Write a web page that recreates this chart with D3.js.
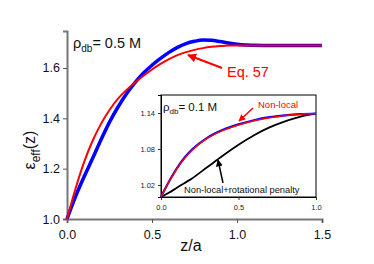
<!DOCTYPE html>
<html>
<head>
<meta charset="utf-8">
<script src="https://cdn.jsdelivr.net/npm/d3@7"></script>
<style>
  body { margin: 0; background: #fff; }
  svg { display: block; font-family: "Liberation Sans", Arial, sans-serif; }
</style>
</head>
<body>
<svg id="chart" width="374" height="264"></svg>
<script>
const mainZ = [0, 0.05, 0.1, 0.15, 0.2, 0.25, 0.3, 0.35, 0.4, 0.45, 0.5, 0.55, 0.6, 0.65, 0.7, 0.75, 0.8, 0.85, 0.9, 0.95, 1.0, 1.05, 1.1, 1.2, 1.3, 1.4, 1.5];
const mainBlue = [1.0, 1.089, 1.167, 1.24, 1.315, 1.385, 1.445, 1.498, 1.542, 1.58, 1.611, 1.638, 1.662, 1.682, 1.697, 1.706, 1.711, 1.71, 1.705, 1.699, 1.694, 1.691, 1.69, 1.689, 1.689, 1.689, 1.689];
const mainRed = [1.0, 1.12, 1.225, 1.31, 1.378, 1.433, 1.478, 1.513, 1.542, 1.569, 1.594, 1.616, 1.635, 1.651, 1.663, 1.672, 1.679, 1.684, 1.687, 1.689, 1.689, 1.689, 1.689, 1.689, 1.689, 1.689, 1.689];

const insetZ = [0, 0.05, 0.1, 0.15, 0.2, 0.3, 0.4, 0.5, 0.6, 0.7, 0.8, 0.9, 1.0];
const insetBlue = [1.0, 1.025, 1.047, 1.065, 1.079, 1.099, 1.112, 1.121, 1.128, 1.133, 1.136, 1.138, 1.139];
const insetRed = [1.0, 1.025, 1.046, 1.064, 1.078, 1.098, 1.111, 1.12, 1.127, 1.132, 1.136, 1.138, 1.139];
const insetBlack = [1.0, 1.007, 1.015, 1.023, 1.031, 1.05, 1.069, 1.087, 1.103, 1.116, 1.126, 1.134, 1.139];

const mainXTicks = [0, 0.5, 1.0, 1.5];
const mainYTicks = [1.0, 1.2, 1.4, 1.6];
const insetXTicks = [0, 0.5, 1.0];
const insetYTicks = [1.02, 1.08, 1.14];

const svg = d3.select('#chart');

// main plot
const x = d3.scaleLinear().domain([0, 1.5]).range([67, 322]);
const y = d3.scaleLinear().domain([1.0, 1.747]).range([219, 31]);

const gx = svg.append('g').attr('transform', 'translate(0,219)');
gx.call(d3.axisBottom(x).tickValues(d3.range(0, 1.51, 0.25)).tickSize(4).tickFormat(''));
gx.call(d3.axisBottom(x).tickValues(mainXTicks).tickSize(4).tickFormat(d3.format('.1f')));
const gy = svg.append('g').attr('transform', 'translate(67,0)');
gy.call(d3.axisLeft(y).tickValues(d3.range(1.0, 1.75, 0.1)).tickSize(3).tickFormat(''));
gy.call(d3.axisLeft(y).tickValues(mainYTicks).tickSize(4).tickFormat(d3.format('.1f')));
[gx, gy].forEach((g) => {
  g.selectAll('.domain').attr('stroke', '#777').attr('stroke-width', 2);
  g.selectAll('line').attr('stroke', '#555');
  g.selectAll('text').attr('font-size', 12.5).attr('fill', '#111').attr('font-family', '"Liberation Sans", Arial, sans-serif');
});
gx.selectAll('text').attr('dy', '1.05em');

const line = d3.line().x((d) => x(d[0])).y((d) => y(d[1])).curve(d3.curveMonotoneX);
svg.append('path').datum(d3.zip(mainZ, mainBlue)).attr('d', line)
  .attr('fill', 'none').attr('stroke', '#0000ff').attr('stroke-width', 3.5);
svg.append('path').datum(d3.zip(mainZ, mainRed)).attr('d', line)
  .attr('fill', 'none').attr('stroke', '#ff0000').attr('stroke-width', 2);

// axis labels
svg.append('text').attr('transform', 'translate(35,150) rotate(-90)').attr('text-anchor', 'middle')
  .attr('font-size', 16).attr('fill', '#111')
  .html('ε<tspan font-size="12" dy="5">eff</tspan><tspan dy="-5">(z)</tspan>');
svg.append('text').attr('x', 191).attr('y', 251).attr('text-anchor', 'middle')
  .attr('font-size', 16).attr('fill', '#111').text('z/a');

svg.append('text').attr('x', 73).attr('y', 48).attr('font-size', 14.5).attr('fill', '#111')
  .html('ρ<tspan font-size="10" dy="4">db</tspan><tspan dy="-4">= 0.5 M</tspan>');

// arrows
const defs = svg.append('defs');
function marker(id, color, size) {
  defs.append('marker').attr('id', id).attr('viewBox', '0 0 10 10').attr('refX', 9).attr('refY', 5)
    .attr('markerWidth', size).attr('markerHeight', size).attr('orient', 'auto')
    .attr('markerUnits', 'userSpaceOnUse')
    .append('path').attr('d', 'M0,0L10,5L0,10z').attr('fill', color);
}
marker('arR', '#ff0000', 9);
marker('arRs', '#ff0000', 7);
marker('arK', '#000', 7);

svg.append('line').attr('x1', 222).attr('y1', 68).attr('x2', 188).attr('y2', 55)
  .attr('stroke', '#ff0000').attr('stroke-width', 2).attr('marker-end', 'url(#arR)');
svg.append('text').attr('x', 227).attr('y', 77).attr('font-size', 14.5).attr('fill', '#ff0000').text('Eq. 57');

// inset
const xi = d3.scaleLinear().domain([0, 1.0]).range([161, 316]);
const yi = d3.scaleLinear().domain([1.0, 1.17]).range([197, 95]);

svg.append('rect').attr('x', 161).attr('y', 95).attr('width', 155).attr('height', 102)
  .attr('fill', '#fff').attr('stroke', '#000').attr('stroke-width', 1);

const ix = svg.append('g').attr('transform', 'translate(0,197)');
ix.call(d3.axisBottom(xi).tickValues(d3.range(0, 1.01, 0.25)).tickSize(2).tickFormat(''));
ix.call(d3.axisBottom(xi).tickValues(insetXTicks).tickSize(3).tickFormat(d3.format('.1f')));
const iy = svg.append('g').attr('transform', 'translate(161,0)');
iy.call(d3.axisLeft(yi).tickValues(d3.range(1.02, 1.16, 0.03)).tickSize(2).tickFormat(''));
iy.call(d3.axisLeft(yi).tickValues(insetYTicks).tickSize(3).tickFormat(d3.format('.2f')));
[ix, iy].forEach((g) => {
  g.selectAll('.domain').attr('stroke', '#000').attr('stroke-width', 1);
  g.selectAll('line').attr('stroke', '#333');
  g.selectAll('text').attr('font-size', 7.5).attr('fill', '#222').attr('font-family', '"Liberation Sans", Arial, sans-serif');
});
ix.selectAll('text').attr('dy', '0.9em');

const iline = d3.line().x((d) => xi(d[0])).y((d) => yi(d[1])).curve(d3.curveMonotoneX);
svg.append('path').datum(d3.zip(insetZ, insetBlack)).attr('d', iline)
  .attr('fill', 'none').attr('stroke', '#000').attr('stroke-width', 1.8);
svg.append('path').datum(d3.zip(insetZ, insetBlue)).attr('d', iline)
  .attr('fill', 'none').attr('stroke', '#0000ff').attr('stroke-width', 2.2);
svg.append('path').datum(d3.zip(insetZ, insetRed)).attr('d', iline)
  .attr('fill', 'none').attr('stroke', '#ff0000').attr('stroke-width', 1.5);

svg.append('text').attr('x', 163).attr('y', 111).attr('font-size', 11.5).attr('fill', '#111')
  .html('ρ<tspan font-size="8" dy="3">db</tspan><tspan dy="-3">= 0.1 M</tspan>');
svg.append('text').attr('x', 258).attr('y', 108).attr('font-size', 9.5).attr('fill', '#ff0000').text('Non-local');
svg.append('line').attr('x1', 253).attr('y1', 108).attr('x2', 239).attr('y2', 121)
  .attr('stroke', '#ff0000').attr('stroke-width', 1.5).attr('marker-end', 'url(#arRs)');
svg.append('line').attr('x1', 223).attr('y1', 183).attr('x2', 218).attr('y2', 160)
  .attr('stroke', '#000').attr('stroke-width', 1.5).attr('marker-end', 'url(#arK)');
svg.append('text').attr('x', 184).attr('y', 193).attr('font-size', 9.3).attr('fill', '#111')
  .text('Non-local+rotational penalty');
</script>
</body>
</html>
